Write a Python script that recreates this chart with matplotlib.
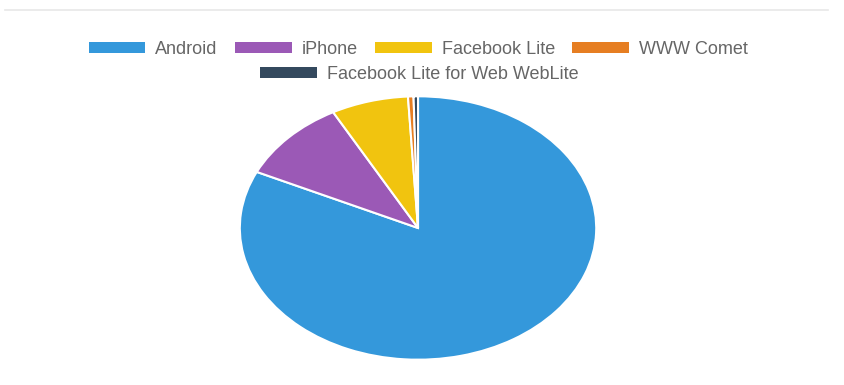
import matplotlib.pyplot as plt
from matplotlib.lines import Line2D

# datos del grafico
etiquetas = ["Android", "iPhone", "Facebook Lite", "WWW Comet",
             "Facebook Lite for Web WebLite"]
valores = [82.0, 10.1, 7.0, 0.5, 0.4]
colores = ["#3498db", "#9b59b6", "#f1c40f", "#e67e22", "#34495e"]

plt.rcParams['font.family'] = ['Liberation Sans', 'DejaVu Sans']

fig = plt.figure(figsize=(8.45, 3.85), dpi=100)

# linea separadora superior
fig.add_artist(Line2D([0.006, 0.98], [0.974, 0.974], color="#e8e8e8", lw=1.2))

ax = fig.add_axes([0.2817, 0.0623, 0.426, 0.691])
cunas, _ = ax.pie(valores, colors=colores, startangle=90, counterclock=False,
                  radius=1, wedgeprops=dict(edgecolor="white", linewidth=1.5))
ax.set_aspect('auto')
ax.set_xlim(-1.01, 1.01)
ax.set_ylim(-1.01, 1.01)

estilo = dict(frameon=False, handlelength=3.15, handleheight=0.55,
              handletextpad=0.55, columnspacing=0.95, labelcolor="#666666",
              prop={'size': 13}, borderpad=0, borderaxespad=0)

ley1 = fig.legend(cunas[:4], etiquetas[:4], ncol=4, loc="center",
                  bbox_to_anchor=(0.495, 0.871), **estilo)
ley2 = fig.legend(cunas[4:], etiquetas[4:], ncol=1, loc="center",
                  bbox_to_anchor=(0.496, 0.806), **estilo)
for ley in (ley1, ley2):
    for h in ley.legend_handles:
        h.set_edgecolor("none")

fig.savefig("out.png", dpi=100)
